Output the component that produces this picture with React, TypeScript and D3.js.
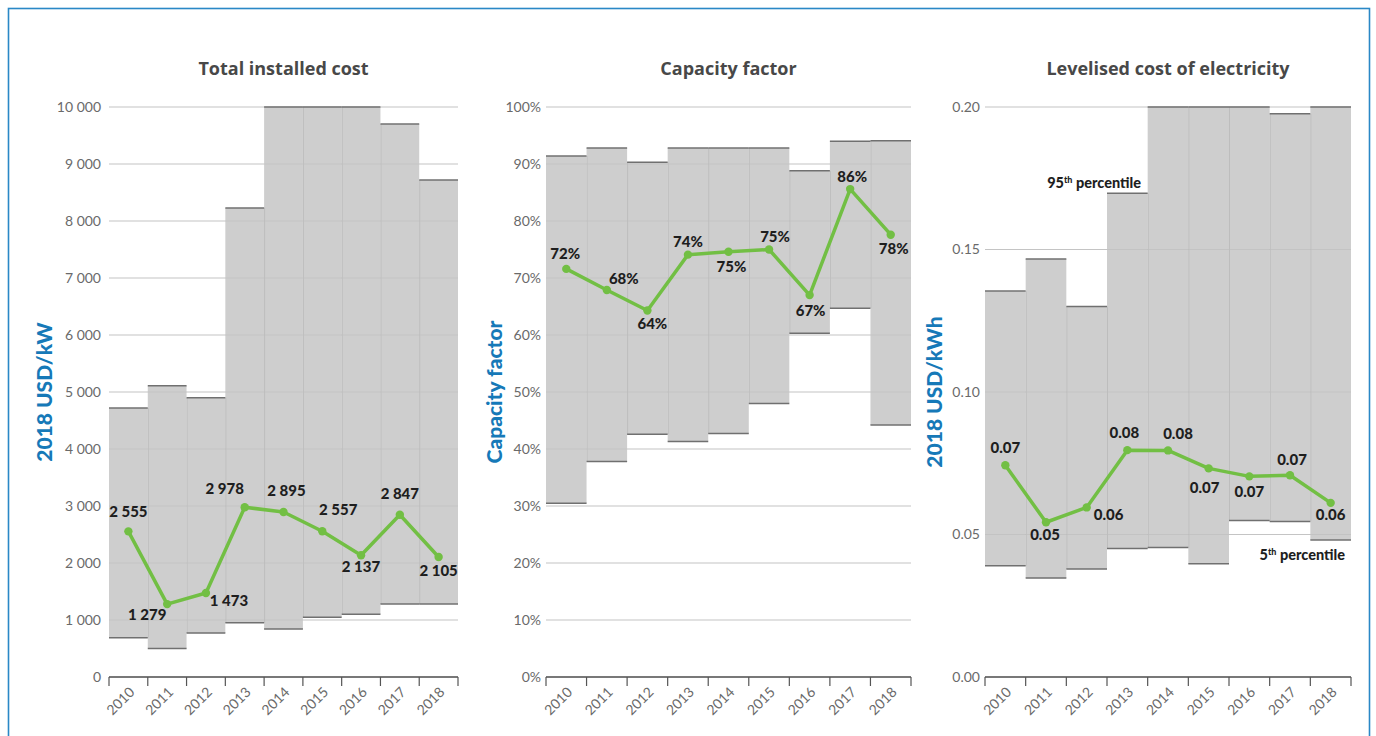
import React from "react";
import * as d3 from "d3";

// ---------- DATA ----------
const years = ["2010", "2011", "2012", "2013", "2014", "2015", "2016", "2017", "2018"];

const costHigh = [4720, 5110, 4900, 8230, 10000, 10000, 10000, 9700, 8720];
const costLow = [690, 500, 770, 950, 840, 1050, 1100, 1280, 1280];
const costAvg = [2555, 1279, 1473, 2978, 2895, 2557, 2137, 2847, 2105];
const costTicks = [0, 1000, 2000, 3000, 4000, 5000, 6000, 7000, 8000, 9000, 10000];

const cfHigh = [91.4, 92.8, 90.3, 92.8, 92.8, 92.8, 88.8, 94.0, 94.1];
const cfLow = [30.5, 37.8, 42.6, 41.3, 42.7, 48.0, 60.3, 64.7, 44.2];
const cfAvg = [71.6, 67.9, 64.3, 74.1, 74.6, 75.0, 67.0, 85.6, 77.6];
const cfTicks = [0, 10, 20, 30, 40, 50, 60, 70, 80, 90, 100];

const lcoeHigh = [0.1354, 0.1467, 0.13, 0.1697, 0.2, 0.2, 0.2, 0.1976, 0.2];
const lcoeLow = [0.039, 0.0347, 0.0379, 0.0451, 0.0454, 0.0397, 0.0549, 0.0546, 0.0481];
const lcoeAvg = [0.0743, 0.0543, 0.0595, 0.0796, 0.0795, 0.0732, 0.0704, 0.0708, 0.0611];
const lcoeTicks = [0, 0.05, 0.1, 0.15, 0.2];

// ---------- LAYOUT (label placement offsets, px) ----------
const costLabelOffsets: [number, number][] = [
  [0, -20], [-20, 11], [23, 8], [-20, -19], [3, -21], [16, -22], [0, 12], [0, -21], [0, 14],
];
const cfLabelOffsets: [number, number][] = [
  [-1, -15], [17, -11], [5, 13], [0, -13], [3, 15], [6, -13], [1, 16], [2, -12], [3, 14],
];
const lcoeLabelOffsets: [number, number][] = [
  [0, -17], [-1, 13], [22, 7], [-3, -17], [10, -17], [-4, 19], [0, 15], [2, -15], [0, 12],
];

const FONT = "Lato, 'Open Sans', sans-serif";
const TITLE_FONT = "'Open Sans', Lato, sans-serif";
const Y_TOP = 107;
const Y_BOTTOM = 677;

const spaceLocale = d3.formatLocale({
  decimal: ".",
  thousands: "\u2009",
  grouping: [3],
  currency: ["", ""],
});
const fmtThousands = (v: number) => spaceLocale.format(",.0f")(v).replace(/\u2009/g, " ");

type PanelProps = {
  x0: number;
  x1: number;
  title: string;
  yTitle: string;
  yTitleX: number;
  high: number[];
  low: number[];
  avg: number[];
  ticks: number[];
  domainMax: number;
  tickFmt: (v: number) => string;
  labelFmt: (v: number) => string;
  labelOffsets: [number, number][];
  tickGap: number;
  children?: React.ReactNode;
};

function Panel(p: PanelProps) {
  const x = d3.scaleBand<string>().domain(years).range([p.x0, p.x1]).paddingInner(0).paddingOuter(0);
  const y = d3.scaleLinear().domain([0, p.domainMax]).range([Y_BOTTOM, Y_TOP]);
  const bw = x.bandwidth();
  const cx = (yr: string) => (x(yr) as number) + bw / 2;
  const line = d3
    .line<number>()
    .x((_, i) => cx(years[i]))
    .y((d) => y(d));
  const midY = (Y_TOP + Y_BOTTOM) / 2;
  const boundaries = years.map((yr) => x(yr) as number).concat([p.x1]);

  return (
    <g>
      <text
        x={(p.x0 + p.x1) / 2}
        y={69}
        textAnchor="middle"
        dy="0.35em"
        fontFamily={TITLE_FONT}
        fontWeight={700}
        fontSize={18}
        fill="#484848"
      >
        {p.title}
      </text>
      <text
        transform={`translate(${p.yTitleX},${midY}) rotate(-90)`}
        textAnchor="middle"
        dy="0.35em"
        fontFamily={FONT}
        fontWeight={900}
        fontSize={21}
        fill="#1679b8"
      >
        {p.yTitle}
      </text>
      {/* gridlines behind */}
      {p.ticks.map((t) => (
        <line key={"g" + t} x1={p.x0} x2={p.x1} y1={y(t)} y2={y(t)} stroke="#cfcfcf" strokeWidth={1.2} />
      ))}
      {/* bars */}
      {years.map((yr, i) => (
        <rect
          key={"b" + yr}
          x={x(yr) as number}
          y={y(p.high[i])}
          width={bw}
          height={y(p.low[i]) - y(p.high[i])}
          fill="#cecece"
        />
      ))}
      {/* gridlines over bars */}
      {p.ticks.map((t) => (
        <line key={"go" + t} x1={p.x0} x2={p.x1} y1={y(t)} y2={y(t)} stroke="#000" strokeOpacity={0.05} strokeWidth={1.2} />
      ))}
      {/* bar separators */}
      {years.map((yr, i) =>
        i === 0 ? null : (
          <line
            key={"s" + yr}
            x1={(x(yr) as number) + 0.5}
            x2={(x(yr) as number) + 0.5}
            y1={y(Math.min(p.high[i], p.high[i - 1]))}
            y2={y(Math.max(p.low[i], p.low[i - 1]))}
            stroke="#bdbdbd"
            strokeWidth={1}
          />
        )
      )}
      {/* caps */}
      {years.map((yr, i) => (
        <g key={"c" + yr}>
          <line x1={x(yr) as number} x2={(x(yr) as number) + bw} y1={y(p.high[i])} y2={y(p.high[i])} stroke="#707070" strokeWidth={1.5} />
          <line x1={x(yr) as number} x2={(x(yr) as number) + bw} y1={y(p.low[i])} y2={y(p.low[i])} stroke="#707070" strokeWidth={1.5} />
        </g>
      ))}
      {/* y tick labels */}
      {p.ticks.map((t) => (
        <text
          key={"yt" + t}
          x={p.x0 - p.tickGap}
          y={y(t)}
          dy="0.35em"
          textAnchor="end"
          fontFamily={FONT}
          fontSize={14}
          fill="#6a6a6a"
        >
          {p.tickFmt(t)}
        </text>
      ))}
      {/* x axis */}
      <line x1={p.x0} x2={p.x1} y1={Y_BOTTOM} y2={Y_BOTTOM} stroke="#555" strokeWidth={1.5} />
      {boundaries.map((bx, i) => (
        <line key={"xt" + i} x1={bx} x2={bx} y1={Y_BOTTOM} y2={Y_BOTTOM + 9} stroke="#555" strokeWidth={1.2} />
      ))}
      {years.map((yr) => (
        <text
          key={"xl" + yr}
          transform={`translate(${cx(yr) + 7},${Y_BOTTOM + 16}) rotate(-45)`}
          textAnchor="end"
          fontFamily={FONT}
          fontSize={14}
          fill="#6a6a6a"
        >
          {yr}
        </text>
      ))}
      {/* average line */}
      <path d={line(p.avg) || ""} fill="none" stroke="#72bf44" strokeWidth={3.5} strokeLinejoin="round" />
      {p.avg.map((v, i) => (
        <circle key={"p" + i} cx={cx(years[i])} cy={y(v)} r={4.2} fill="#72bf44" />
      ))}
      {p.avg.map((v, i) => (
        <text
          key={"l" + i}
          x={cx(years[i]) + p.labelOffsets[i][0]}
          y={y(v) + p.labelOffsets[i][1]}
          dy="0.35em"
          textAnchor="middle"
          fontFamily={FONT}
          fontWeight={900}
          fontSize={15}
          fill="#1e1e1e"
        >
          {p.labelFmt(v)}
        </text>
      ))}
      {p.children}
    </g>
  );
}

export default function App() {
  return (
    <svg
      width={1376}
      height={736}
      style={{ position: "absolute", left: 0, top: 0, display: "block", background: "#fff" }}
    >
      <rect x={8.5} y={8.5} width={1361} height={760} fill="#fff" stroke="#2a88c6" strokeWidth={1.6} />
      <Panel
        x0={109}
        x1={458}
        title="Total installed cost"
        yTitle="2018 USD/kW"
        yTitleX={45}
        high={costHigh}
        low={costLow}
        avg={costAvg}
        ticks={costTicks}
        domainMax={10000}
        tickFmt={fmtThousands}
        labelFmt={fmtThousands}
        labelOffsets={costLabelOffsets}
        tickGap={8}
      />
      <Panel
        x0={546}
        x1={911}
        title="Capacity factor"
        yTitle="Capacity factor"
        yTitleX={495}
        high={cfHigh}
        low={cfLow}
        avg={cfAvg}
        ticks={cfTicks}
        domainMax={100}
        tickFmt={(v) => d3.format(".0f")(v) + "%"}
        labelFmt={(v) => d3.format(".0f")(v) + "%"}
        labelOffsets={cfLabelOffsets}
        tickGap={5}
      />
      <Panel
        x0={985}
        x1={1351}
        title="Levelised cost of electricity"
        yTitle="2018 USD/kWh"
        yTitleX={935}
        high={lcoeHigh}
        low={lcoeLow}
        avg={lcoeAvg}
        ticks={lcoeTicks}
        domainMax={0.2}
        tickFmt={(v) => d3.format(".2f")(v)}
        labelFmt={(v) => d3.format(".2f")(v)}
        labelOffsets={lcoeLabelOffsets}
        tickGap={5}
      >
        <text x={1141} y={183} dy="0.35em" textAnchor="end" fontFamily={FONT} fontWeight={900} fontSize={14.5} fill="#1e1e1e">
          95<tspan fontSize={9} dy={-5}>th</tspan>
          <tspan dy={5}> percentile</tspan>
        </text>
        <text x={1345} y={555} dy="0.35em" textAnchor="end" fontFamily={FONT} fontWeight={900} fontSize={14.5} fill="#1e1e1e">
          5<tspan fontSize={9} dy={-5}>th</tspan>
          <tspan dy={5}> percentile</tspan>
        </text>
      </Panel>
    </svg>
  );
}
